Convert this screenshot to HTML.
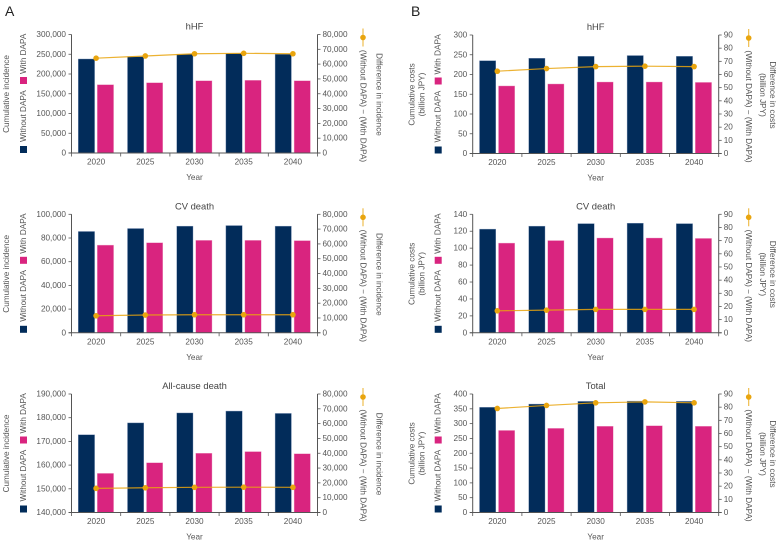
<!DOCTYPE html>
<html lang="en">
<head>
<meta charset="utf-8">
<title>Cumulative incidence and costs with and without DAPA</title>
<style>
html,body{margin:0;padding:0;background:#fff;}
#figure{display:block;width:779px;height:542px;font-family:"Liberation Sans",Arial,sans-serif;}
text{fill:#555;font-size:8.2px;}
.title{font-size:9.4px;fill:#444;}
.panel-letter{font-size:14px;fill:#222;}
</style>
</head>
<body>
<svg id="figure" xmlns="http://www.w3.org/2000/svg" width="779" height="542" viewBox="0 0 779 542">
  <text class="panel-letter" x="5" y="16">A</text>
  <text class="panel-letter" x="411" y="16">B</text>
</svg>
<script>
const categories = ['2020', '2025', '2030', '2035', '2040'];

const hhfIncidenceWithout = [238000, 244000, 250000, 252000, 250000];
const hhfIncidenceWith = [173000, 178000, 183000, 184000, 183000];
const hhfIncidenceDiff = [64000, 65500, 67000, 67300, 67000];

const cvIncidenceWithout = [85500, 88000, 90000, 90500, 90000];
const cvIncidenceWith = [74000, 76000, 78000, 78000, 77800];
const cvIncidenceDiff = [11500, 12000, 12200, 12200, 12200];

const acdIncidenceWithout = [172800, 177800, 182000, 182800, 181800];
const acdIncidenceWith = [156500, 161000, 165000, 165700, 164800];
const acdIncidenceDiff = [16300, 16700, 17000, 17100, 17000];

const hhfCostWithout = [235, 241, 246, 248, 246];
const hhfCostWith = [171, 176, 181, 181, 180];
const hhfCostDiff = [62.5, 64.5, 66, 66.3, 66];

const cvCostWithout = [122.5, 126, 129, 129.5, 129];
const cvCostWith = [106, 109, 112, 112, 111.5];
const cvCostDiff = [16.7, 17.2, 17.8, 17.8, 17.8];

const totalCostWithout = [355, 366, 375, 376, 375];
const totalCostWith = [277, 284, 291, 293, 291];
const totalCostDiff = [79, 81.3, 83.3, 84, 83.3];

const hhfIncidenceTicks = [0, 50000, 100000, 150000, 200000, 250000, 300000];
const cvIncidenceTicks = [0, 20000, 40000, 60000, 80000, 100000];
const acdIncidenceTicks = [140000, 150000, 160000, 170000, 180000, 190000];
const hhfCostTicks = [0, 50, 100, 150, 200, 250, 300];
const cvCostTicks = [0, 20, 40, 60, 80, 100, 120, 140];
const totalCostTicks = [0, 50, 100, 150, 200, 250, 300, 350, 400];
const incidenceDiffTicks = [0, 10000, 20000, 30000, 40000, 50000, 60000, 70000, 80000];
const costDiffTicks = [0, 10, 20, 30, 40, 50, 60, 70, 80, 90];

const NAVY = '#022c5a';
const PINK = '#d9247f';
const GOLD = '#e9a50e';
const AXIS = '#555555';
const svg = document.getElementById('figure');

function mk(tag, name, attrs) {
  const el = document.createElementNS('http://www.w3.org/2000/svg', tag);
  
  
  for (const k in attrs) el.setAttribute(k, attrs[k]);
  return el;
}
function label(parent, name, str, attrs) {
  const t = mk('text', name, attrs);
  t.textContent = str;
  parent.appendChild(t);
  return t;
}
function rotated(parent, name, str, x, y, angle, anchor) {
  return label(parent, name, str, {
    x: x, y: y, 'text-anchor': anchor, 'dominant-baseline': 'central',
    transform: 'rotate(' + angle + ' ' + x + ' ' + y + ')'
  });
}
function fmt(v) {
  return v.toLocaleString('en-US');
}
function scaleLinear(ticks, bottom, top) {
  const lo = ticks[0], hi = ticks[ticks.length - 1];
  return v => bottom - (v - lo) / (hi - lo) * (bottom - top);
}
function drawPanel(p) {
  const g = mk('g', p.id + '-chart', {});
  svg.appendChild(g);
  const left = p.left, right = p.left + 246, top = p.top, bottom = p.top + 118.5;
  const yL = scaleLinear(p.leftTicks, bottom, top);
  const yR = scaleLinear(p.rightTicks, bottom, top);
  const step = (right - left) / categories.length;
  const xC = i => left + step * (i + 0.5);
  const barW = 16.3;

  label(g, p.id + '-title', p.title, {class: 'title', x: xC(2), y: top - 5, 'text-anchor': 'middle'});

  categories.forEach((c, i) => {
    const a = yL(p.without[i]), b = yL(p.with[i]);
    g.appendChild(mk('rect', 'bar-without-dapa-' + c, {
      x: xC(i) - 17.8, y: a, width: barW, height: bottom - a,
      fill: NAVY, stroke: '#7f95b8', 'stroke-width': 0.4
    }));
    g.appendChild(mk('rect', 'bar-with-dapa-' + c, {
      x: xC(i) + 1.2, y: b, width: barW, height: bottom - b,
      fill: PINK, stroke: '#eea4c8', 'stroke-width': 0.4
    }));
  });

  g.appendChild(mk('line', 'left-axis', {x1: left, x2: left, y1: top, y2: bottom, stroke: AXIS, 'stroke-width': 1}));
  g.appendChild(mk('line', 'right-axis', {x1: right, x2: right, y1: top, y2: bottom, stroke: AXIS, 'stroke-width': 1}));
  g.appendChild(mk('line', 'x-axis', {x1: left - 3, x2: right + 3, y1: bottom, y2: bottom, stroke: AXIS, 'stroke-width': 1}));

  p.leftTicks.forEach(v => {
    const y = yL(v);
    g.appendChild(mk('line', 'left-tick', {x1: left - 3, x2: left, y1: y, y2: y, stroke: AXIS, 'stroke-width': 0.8}));
    label(g, 'left-tick-label', fmt(v), {x: left - 5.5, y: y, 'text-anchor': 'end', 'dominant-baseline': 'central'});
  });
  p.rightTicks.forEach(v => {
    const y = yR(v);
    g.appendChild(mk('line', 'right-tick', {x1: right, x2: right + 3, y1: y, y2: y, stroke: AXIS, 'stroke-width': 0.8}));
    label(g, 'right-tick-label', fmt(v), {x: right + 5, y: y, 'dominant-baseline': 'central'});
  });
  for (let i = 0; i <= categories.length; i++) {
    const x = left + step * i;
    g.appendChild(mk('line', 'x-tick', {x1: x, x2: x, y1: bottom, y2: bottom + 3.5, stroke: AXIS, 'stroke-width': 0.8}));
  }
  categories.forEach((c, i) => {
    label(g, 'x-tick-label-' + c, c, {x: xC(i), y: bottom + 11.5, 'text-anchor': 'middle'});
  });
  label(g, p.id + '-x-axis-title', 'Year', {x: xC(2), y: bottom + 27, 'text-anchor': 'middle'});

  const pts = p.diff.map((v, i) => xC(i) + ',' + yR(v)).join(' ');
  g.appendChild(mk('polyline', 'difference-line', {points: pts, fill: 'none', stroke: GOLD, 'stroke-width': 1.2, 'stroke-opacity': 0.85}));
  p.diff.forEach((v, i) => {
    g.appendChild(mk('circle', 'difference-point-' + categories[i], {cx: xC(i), cy: yR(v), r: 2.8, fill: GOLD}));
  });

  const o = p.offsets;
  g.appendChild(mk('rect', 'legend-swatch-without-dapa', {x: left + o.swatch, y: bottom - 7, width: 7, height: 7, fill: NAVY}));
  rotated(g, 'legend-label-without-dapa', 'Without DAPA', left + o.swatch + 3.5, bottom - 11, -90, 'start');
  g.appendChild(mk('rect', 'legend-swatch-with-dapa', {x: left + o.swatch, y: bottom - 76, width: 7, height: 7, fill: PINK}));
  rotated(g, 'legend-label-with-dapa', 'With DAPA', left + o.swatch + 3.5, bottom - 79, -90, 'start');

  p.leftTitle.forEach((s, i) => {
    rotated(g, 'left-axis-title', s, left + o.leftTitle + i * 10, top + 59.5, -90, 'middle');
  });

  g.appendChild(mk('line', 'legend-line-difference', {x1: right + o.marker, x2: right + o.marker, y1: top - 6, y2: top + 12, stroke: GOLD, 'stroke-width': 1.1, 'stroke-opacity': 0.8}));
  g.appendChild(mk('circle', 'legend-marker-difference', {cx: right + o.marker, cy: top + 3, r: 2.8, fill: GOLD}));
  rotated(g, 'legend-label-difference', '(Without DAPA) \u2212 (With DAPA)', right + o.marker, top + 71.5, 90, 'middle');
  p.rightTitle.forEach((s, i) => {
    rotated(g, 'right-axis-title', s, right + o.rightTitle - i * 10, top + 60, 90, 'middle');
  });
}

const incidenceLayoutA = {left: 71.5, offsets: {swatch: -51.5, leftTitle: -65, marker: 45.5, rightTitle: 61.5}};
const costLayoutB = {left: 472.7, offsets: {swatch: -38, leftTitle: -60.7, marker: 30, rightTitle: 54}};

[
  {id: 'a-hhf', title: 'hHF', top: 34.5, layout: incidenceLayoutA, without: hhfIncidenceWithout, with: hhfIncidenceWith, diff: hhfIncidenceDiff, leftTicks: hhfIncidenceTicks, rightTicks: incidenceDiffTicks, leftTitle: ['Cumulative incidence'], rightTitle: ['Difference in incidence']},
  {id: 'a-cv', title: 'CV death', top: 214.3, layout: incidenceLayoutA, without: cvIncidenceWithout, with: cvIncidenceWith, diff: cvIncidenceDiff, leftTicks: cvIncidenceTicks, rightTicks: incidenceDiffTicks, leftTitle: ['Cumulative incidence'], rightTitle: ['Difference in incidence']},
  {id: 'a-acd', title: 'All-cause death', top: 394, layout: incidenceLayoutA, without: acdIncidenceWithout, with: acdIncidenceWith, diff: acdIncidenceDiff, leftTicks: acdIncidenceTicks, rightTicks: incidenceDiffTicks, leftTitle: ['Cumulative incidence'], rightTitle: ['Difference in incidence']},
  {id: 'b-hhf', title: 'hHF', top: 35, layout: costLayoutB, without: hhfCostWithout, with: hhfCostWith, diff: hhfCostDiff, leftTicks: hhfCostTicks, rightTicks: costDiffTicks, leftTitle: ['Cumulative costs', '(billion JPY)'], rightTitle: ['Difference in costs', '(billion JPY)']},
  {id: 'b-cv', title: 'CV death', top: 214.3, layout: costLayoutB, without: cvCostWithout, with: cvCostWith, diff: cvCostDiff, leftTicks: cvCostTicks, rightTicks: costDiffTicks, leftTitle: ['Cumulative costs', '(billion JPY)'], rightTitle: ['Difference in costs', '(billion JPY)']},
  {id: 'b-total', title: 'Total', top: 394, layout: costLayoutB, without: totalCostWithout, with: totalCostWith, diff: totalCostDiff, leftTicks: totalCostTicks, rightTicks: costDiffTicks, leftTitle: ['Cumulative costs', '(billion JPY)'], rightTitle: ['Difference in costs', '(billion JPY)']}
].forEach(p => drawPanel(Object.assign({}, p, {left: p.layout.left, offsets: p.layout.offsets})));
</script>
</body>
</html>
